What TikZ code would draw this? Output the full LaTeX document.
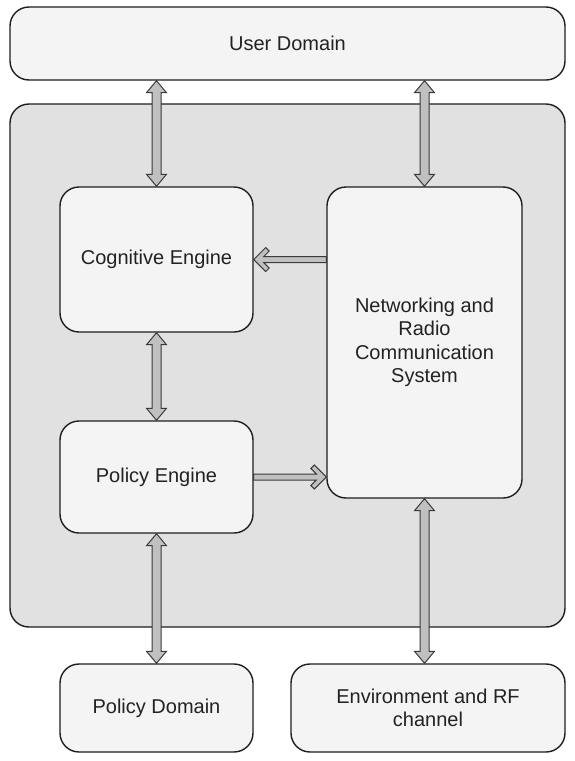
\documentclass[tikz,border=0pt]{standalone}
\usepackage{fontspec}
\setmainfont{Liberation Sans}
\usetikzlibrary{calc}
\definecolor{boxfill}{HTML}{F4F4F4}
\definecolor{bgfill}{HTML}{E1E1E1}
\definecolor{arrfill}{HTML}{C0C0C0}
\definecolor{arrline}{HTML}{3A3A3A}
\definecolor{boxline}{HTML}{1E1E1E}
\definecolor{txt}{HTML}{222222}
\newcommand\vdarr[2]{\path[arrowshape] let \p1=(#1), \p2=(#2) in
 (\x1,\y1) -- (\x1+10pt,\y1-12pt) -- (\x1+4.5pt,\y1-12pt) -- (\x1+4.5pt,\y2+12pt) -- (\x1+10pt,\y2+12pt) -- (\x1,\y2) -- (\x1-10pt,\y2+12pt) -- (\x1-4.5pt,\y2+12pt) -- (\x1-4.5pt,\y1-12pt) -- (\x1-10pt,\y1-12pt) -- cycle;}
\newcommand\lharr[2]{\path[arrowshape] let \p1=(#1), \p2=(#2) in
 (\x2,\y2) -- (\x2+12pt,\y2+12pt) -- (\x2+15.5pt,\y2+8.5pt) -- (\x2+10pt,\y2+3pt) -- (\x1,\y2+3pt) -- (\x1,\y2-3pt) -- (\x2+10pt,\y2-3pt) -- (\x2+15.5pt,\y2-8.5pt) -- (\x2+12pt,\y2-12pt) -- cycle;}
\newcommand\rharr[2]{\path[arrowshape] let \p1=(#1), \p2=(#2) in
 (\x2,\y2) -- (\x2-12pt,\y2+12pt) -- (\x2-15.5pt,\y2+8.5pt) -- (\x2-10pt,\y2+3pt) -- (\x1,\y2+3pt) -- (\x1,\y2-3pt) -- (\x2-10pt,\y2-3pt) -- (\x2-15.5pt,\y2-8.5pt) -- (\x2-12pt,\y2-12pt) -- cycle;}
\begin{document}
\begin{tikzpicture}[x=1pt,y=-1pt,
  box/.style={draw=boxline, line width=1.4pt, fill=boxfill, rounded corners=19pt,
    align=center, text=txt, font=\fontsize{20}{23.5}\selectfont, inner sep=0pt},
  arrowshape/.style={draw=arrline, line width=1pt, fill=arrfill, line join=miter}]
\useasboundingbox (0,0) rectangle (575,761);
\fill[white] (0,0) rectangle (575,761);
\node[box, minimum width=555pt, minimum height=73pt] (ud) at (287.5,43.5) {User Domain};
\node[box, fill=bgfill, minimum width=555pt, minimum height=523pt] (bg) at (287.5,365.5) {};
\node[box, minimum width=193pt, minimum height=145pt] (ce) at (156.5,259.5) {Cognitive Engine};
\node[box, minimum width=193pt, minimum height=112pt] (pe) at (156.5,477) {Policy Engine};
\node[box, minimum width=195pt, minimum height=311pt] (nr) at (424.5,342.5) {Networking and\\Radio\\Communication\\System};
\node[box, minimum width=193pt, minimum height=88pt] (pd) at (156.5,708) {Policy Domain};
\node[box, minimum width=274pt, minimum height=88pt] (env) at (428,708) {Environment and RF\\channel};
\vdarr{ud.south -| ce.north}{ce.north}
\vdarr{ud.south -| nr.north}{nr.north}
\vdarr{ce.south}{pe.north}
\vdarr{pe.south}{pd.north}
\vdarr{nr.south}{nr.south |- env.north}
\lharr{nr.west |- ce.east}{ce.east}
\rharr{pe.east}{nr.west |- pe.east}
\end{tikzpicture}
\end{document}
